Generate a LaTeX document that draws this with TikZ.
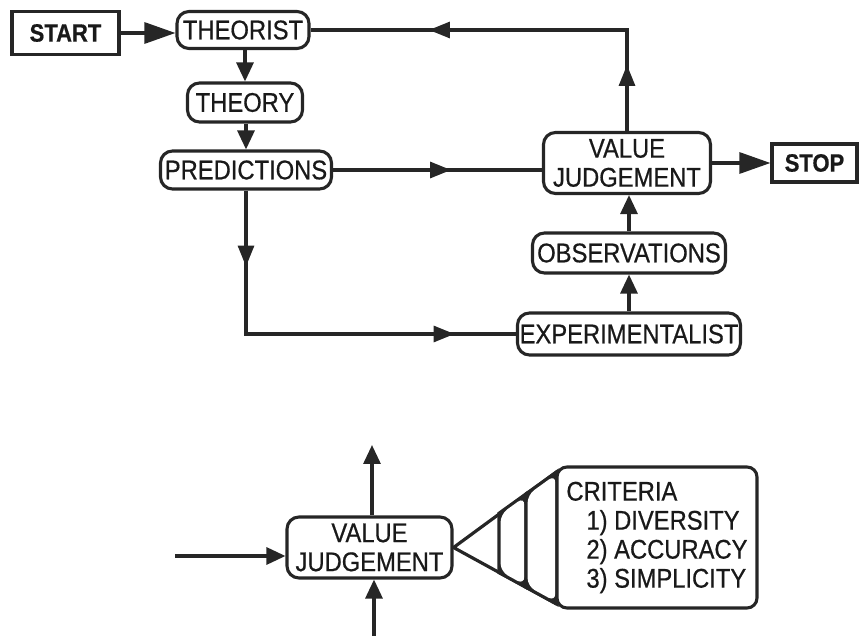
\documentclass[tikz,border=0pt]{standalone}
\usepackage{fontspec}
\newfontfamily\flowfont[FakeStretch=0.88, FakeBold=0.6]{Liberation Sans}
\usepackage{tikz}
\usetikzlibrary{arrows.meta, decorations.markings}

\begin{document}
\begin{tikzpicture}[x=1pt, y=-1pt, line width=3.1pt, color=black!85,
    every node/.style={font=\flowfont\fontsize{27}{29}\selectfont, inner sep=0pt, text=black!90},
    rbox/.style={draw, rounded corners=12pt, align=center},
    sqbox/.style={draw, rounded corners=0pt, font=\flowfont\bfseries\fontsize{25}{29}\selectfont},
    bigtip/.style={-{Triangle[length=31pt, width=21pt]}},
    smalltip/.style={-{Triangle[length=19pt, width=17pt]}},
    midtip/.style={postaction={decorate, decoration={markings,
        mark=at position #1 with {\arrow{Triangle[length=21pt, width=16pt]}}}}}
  ]
    \useasboundingbox (0,0) rectangle (863,636);

    % upper loop
    \node[sqbox, minimum width=107pt, minimum height=43pt] (start) at (65.5,33) {START};
    \node[rbox, minimum width=132pt, minimum height=37pt] (theorist) at (243,30) {THEORIST};
    \node[rbox, minimum width=115pt, minimum height=39pt] (theory) at (245,102.5) {THEORY};
    \node[rbox, minimum width=171pt, minimum height=38pt] (pred) at (246,170) {PREDICTIONS};
    \node[rbox, minimum width=167pt, minimum height=61pt] (judge) at (627,163) {VALUE\\JUDGEMENT};
    \node[sqbox, minimum width=85pt, minimum height=38pt] (stop) at (814.5,163) {STOP};
    \node[rbox, minimum width=193pt, minimum height=40pt] (obs) at (629,253) {OBSERVATIONS};
    \node[rbox, minimum width=223pt, minimum height=42pt] (expt) at (629,334) {EXPERIMENTALIST};

    \draw[bigtip] (start.east) -- (start.east -| theorist.west);
    \draw[smalltip] (theory.north |- theorist.south) -- (theory.north);
    \draw[smalltip] (theory.south -| pred.north) -- (pred.north);
    \coordinate (c1) at (judge.north |- theorist.east);
    \draw[midtip=66pt, midtip=299pt] (judge.north) -- (c1) -- (theorist.east);
    \draw[midtip=118pt] (pred.east) -- (pred.east -| judge.west);
    \draw[bigtip] (judge.east) -- (stop.west);
    \draw[smalltip] (obs.north) -- (obs.north |- judge.south);
    \draw[smalltip] (expt.north) -- (obs.south);
    \coordinate (c2) at (pred.south |- expt.west);
    \draw[midtip=76pt, midtip=352pt] (pred.south) -- (c2) -- (expt.west);

    % lower detail
    \node[rbox, minimum width=165pt, minimum height=61pt] (judge2) at (369.5,547.5) {VALUE\\JUDGEMENT};
    \coordinate (inL) at (175,556);
    \coordinate (outT) at (372,445);
    \coordinate (inB) at (374,636);
    \draw[smalltip] (inL) -- (inL -| judge2.west);
    \draw[smalltip] (outT |- judge2.north) -- (outT);
    \draw[smalltip] (inB) -- (inB |- judge2.south);

    % funnel
    \draw[line width=3.2pt, line join=round] (557,471.6) -- (judge2.east) -- (557,604.2);
    \filldraw[line width=3.2pt] (499,513.3) -- (526,493.9) -- (526,587.3) -- (499,572.6) -- cycle;
    \fill[white, rounded corners=8pt] (500.6,514.2) -- (524.4,497.0) -- (524.4,584.6) -- (500.6,571.5) -- cycle;
    \filldraw[line width=3.2pt] (526,493.9) -- (557,471.6) -- (557,604.2) -- (526,587.3) -- cycle;
    \fill[white, rounded corners=8pt] (527.6,494.9) -- (555.4,474.8) -- (555.4,601.5) -- (527.6,586.2) -- cycle;

    \node[draw, rounded corners=10pt, fill=white, align=left, minimum width=200pt,
          minimum height=141pt] (crit) at (657,537.5)
      {CRITERIA\\\hspace*{20pt}1) DIVERSITY\\\hspace*{20pt}2) ACCURACY\\\hspace*{20pt}3) SIMPLICITY};
\end{tikzpicture}
\end{document}
